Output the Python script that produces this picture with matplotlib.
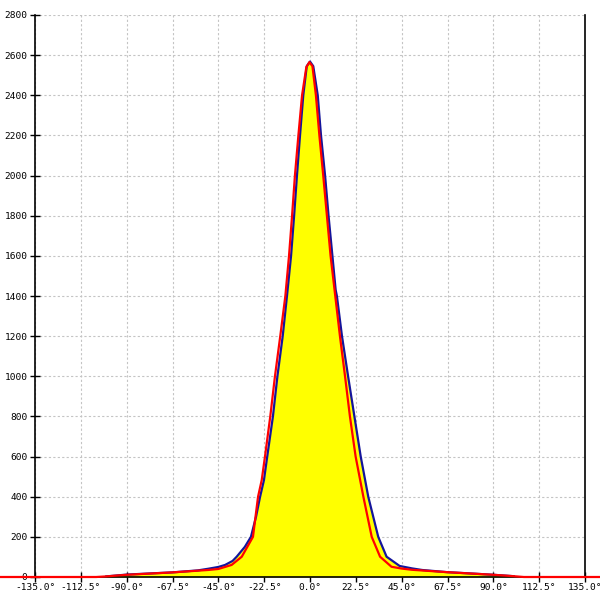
import matplotlib
matplotlib.use("Agg")
import matplotlib.pyplot as plt
import numpy as np

# Measured distribution (blue) - angle in degrees, counts
measured_angle = [-100, -90, -80, -67.5, -55, -50, -45, -41.7, -38, -36, -32, -29, -26.5, -24.5,
                  -22.6, -21.0, -18.2, -16.0, -13.4, -11.3, -9.3, -7.8, -6.4, -4.9, -3.3, -1.6, 0,
                  1.6, 3.8, 5.4, 7.4, 9.1, 11.0, 12.6, 13.2, 15.7, 18.7, 21.8, 24.9, 28.6, 33.5,
                  37.6, 44, 50, 55, 67.5, 80, 90, 100]
measured_count = [3, 12, 17, 23, 33, 41, 50, 60, 80, 101, 150, 200, 300, 400,
                  483, 600, 800, 1000, 1200, 1400, 1600, 1800, 2000, 2200, 2400, 2545, 2568,
                  2545, 2400, 2200, 2000, 1800, 1600, 1430, 1400, 1200, 1000, 800, 600, 400, 200,
                  101, 55, 43, 35, 24, 17, 11, 4]

# Fitted model (red)
fit_angle = [-180, -105, -100, -90, -67.5, -50, -45, -38.5, -33.5, -28, -25.5, -23.7, -22.1,
             -19.5, -17.2, -14.6, -12.1, -10.3, -8.8, -7.4, -5.7, -3.9, -1.8, -0.3,
             1.2, 2.9, 4.6, 6.5, 8.3, 10.1, 12.4, 14.7, 17.2, 19.6, 22.4, 26.2, 30.3, 34.4,
             40, 45, 50, 67.5, 90, 100, 105, 180]
fit_count = [0, 0, 3, 11, 23, 35, 40, 60, 101, 200, 400, 483, 600,
             800, 1000, 1200, 1400, 1600, 1800, 2000, 2200, 2400, 2540, 2565,
             2545, 2400, 2200, 2000, 1800, 1600, 1400, 1200, 1000, 800, 600, 400, 200, 101,
             51, 42, 36, 24, 11, 4, 0, 0]

x_ticks = np.arange(-135, 135.1, 22.5)
y_ticks = np.arange(0, 2801, 200)

fig = plt.figure(figsize=(6, 6), dpi=100)
ax = fig.add_axes([35/600, 23/600, 550/600, 562/600])

ax.fill_between(measured_angle, measured_count, 0, color="#ffff00", lw=0, zorder=2)
ax.plot(measured_angle, measured_count, color="#14149c", lw=1.6, zorder=3)
ax.plot(fit_angle, fit_count, color="#ff0000", lw=1.6, zorder=5, clip_on=False)

ax.set_xlim(-135, 135)
ax.set_ylim(0, 2800)
ax.set_xticks(x_ticks)
ax.set_yticks(y_ticks)
ax.set_xticklabels([f"{v:.1f}°" for v in x_ticks])
ax.set_yticklabels([f"{int(v)}" for v in y_ticks])

ax.grid(True, color="#c4c4c4", linestyle=(0, (2, 2)), linewidth=0.8, zorder=1)
ax.set_axisbelow(True)

ax.spines["top"].set_visible(False)
for s in ["left", "right", "bottom"]:
    ax.spines[s].set_color("black")
    ax.spines[s].set_linewidth(1.2)
    ax.spines[s].set_zorder(4)

ax.tick_params(axis="both", direction="inout", length=7, width=1, color="black",
               labelsize=6.8, labelcolor="black")
ax.tick_params(axis="y", pad=2)
ax.tick_params(axis="x", pad=1)
for lab in ax.get_xticklabels() + ax.get_yticklabels():
    lab.set_family("DejaVu Sans Mono")

fig.savefig("out.png", dpi=100)
